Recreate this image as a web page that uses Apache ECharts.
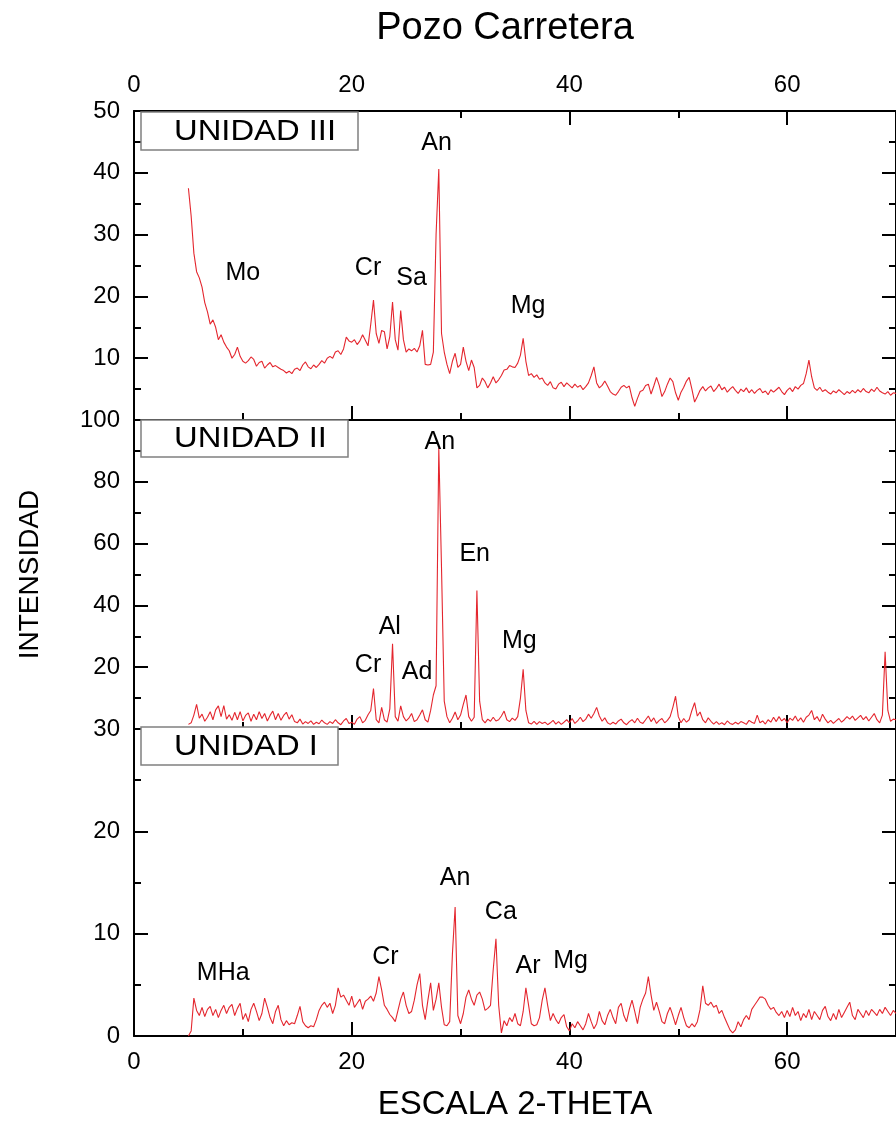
<!DOCTYPE html>
<html>
<head>
<meta charset="utf-8">
<script src="https://cdn.jsdelivr.net/npm/echarts@6/dist/echarts.min.js"></script>
<style>
html,body{margin:0;padding:0;background:#fff;overflow:hidden;}
#chart{width:896px;height:1124px;}
</style>
</head>
<body>
<div id="chart"></div>
<script>
// 2-theta grid (degrees), 5.00 ... 70.00 in steps of 0.25
const twoTheta = [];
for (let i = 0; i <= 260; i++) twoTheta.push(+(5 + i * 0.25).toFixed(2));

// UNIDAD III intensities (top panel)
const unidadIII = [
37.5,33,27,24, 23,21.5,19,17.5, 15.5,16.2,15.0,13, 13.8,12.6,11.8,11.2,
10.0,10.6,11.8,10.3, 9.5,9.2,9.6,10.2, 9.8,8.7,9.3,9.5, 8.4,8.9,9.3,8.6,
8.8,8.5,8.2,8.0, 7.6,7.9,7.5,8.2, 8.4,8.0,8.9,9.4, 8.6,8.3,8.9,8.5,
9.0,9.6,9.2,10.0, 10.3,10.0,11.0,11.2, 10.6,11.5,13.4,12.8, 12.6,13.0,12.2,12.8,
13.8,12.9,12.0,15.5, 19.4,14.0,12.4,14.5, 14.3,11.5,13.5,19.1, 13.0,11.3,17.7,13.0,
11.0,11.5,11.2,11.6, 11.0,12.0,14.5,9.0, 8.9,9.0,11.0,30.0, 40.6,14.0,11.0,9.0,
7.5,9.5,10.8,8.5, 9.0,11.8,9.5,8.0, 9.7,8.5,5.2,5.6, 6.8,6.2,5.2,6.0,
7.0,6.0,6.5,7.2, 8.1,8.2,8.8,8.6, 8.5,9.2,10.5,13.2, 9.5,7.2,7.5,6.9,
7.3,6.6,6.8,6.0, 5.6,6.2,5.2,5.0, 5.8,6.1,5.4,6.0, 5.6,5.2,5.8,5.3,
5.6,4.9,5.4,6.0, 7.2,8.6,6.0,5.2, 5.6,6.3,5.5,4.6, 4.2,4.0,4.6,5.3,
5.6,5.2,5.5,3.6, 2.2,3.5,4.6,4.8, 5.6,5.8,4.2,5.5, 6.9,5.6,3.8,4.6,
5.8,6.8,6.2,4.4, 3.2,4.5,5.3,6.3, 6.9,5.0,2.9,3.8, 4.8,5.4,4.7,5.2,
5.5,4.6,5.1,5.8, 4.9,5.3,4.5,5.0, 5.4,4.8,4.3,5.0, 4.6,5.2,4.4,4.9,
4.3,4.8,5.1,4.4, 4.7,4.1,4.9,4.5, 4.9,5.3,4.6,4.1, 4.8,5.2,4.6,5.4,
5.0,5.6,5.9,7.5, 9.7,7.0,5.2,4.8, 5.3,4.6,4.9,4.5, 4.2,4.7,4.4,4.9,
4.5,4.1,4.6,4.3, 4.8,4.4,4.9,4.5, 5.1,4.6,4.4,5.0, 4.6,5.3,4.7,4.4,
4.2,4.6,4.0,4.4, 4.3
];

// UNIDAD II intensities (middle panel)
const unidadII = [
1.5,2.0,4.5,8.0, 3.5,4.8,2.5,3.8, 5.6,3.0,6.2,7.5, 4.0,7.6,3.2,4.6,
2.8,5.4,3.0,5.6, 2.6,4.4,5.2,2.5, 4.8,3.0,5.6,3.4, 5.0,2.6,4.4,5.8,
3.0,5.0,2.8,4.4, 5.4,3.2,4.6,2.4, 2.0,3.2,1.6,2.4, 1.8,2.6,1.5,2.2,
1.7,2.9,2.0,1.5, 2.4,1.8,3.0,2.0, 1.4,2.6,3.4,1.8, 2.2,1.5,3.2,4.0,
2.0,2.8,4.6,6.0, 13.1,3.0,2.0,7.0, 3.0,2.2,6.5,27.6, 4.0,2.5,7.5,4.0,
2.6,3.5,5.0,2.4, 3.0,4.5,6.2,3.0, 2.2,6.0,11.0,14.0, 91.0,52.0,9.0,4.0,
2.0,3.5,5.5,3.0, 4.5,8.0,11.0,4.0, 2.5,3.8,44.8,9.0, 3.0,2.0,3.2,2.5,
3.8,2.6,3.0,4.2, 5.8,3.0,2.4,3.5, 2.8,4.0,10.0,19.3, 6.0,2.0,1.6,2.5,
1.5,2.4,1.8,2.2, 1.4,2.0,2.8,1.6, 2.4,1.5,2.2,3.0, 2.0,3.4,1.8,2.6,
3.8,2.4,3.2,4.8, 3.5,5.0,7.0,4.2, 2.5,3.6,2.0,1.5, 2.2,1.6,2.6,3.2,
2.0,1.4,2.4,3.0, 2.0,3.5,2.2,1.8, 3.0,4.2,2.4,3.6, 1.8,2.8,3.4,2.0,
2.8,4.0,7.0,10.6, 4.0,2.0,3.4,2.2, 3.0,6.0,8.5,4.2, 5.5,3.0,2.0,3.6,
2.5,1.6,2.4,1.5, 2.0,1.4,2.6,1.8, 1.5,2.2,1.6,2.4, 2.0,1.5,2.8,2.2,
1.8,4.5,2.0,2.6, 1.6,3.0,2.2,3.8, 2.4,4.0,2.6,3.4, 2.0,3.5,2.8,4.2,
2.5,3.6,2.2,3.8, 4.5,6.0,3.0,4.0, 2.4,4.8,3.2,2.0, 2.8,1.8,2.6,3.4,
2.2,3.0,4.0,3.2, 4.2,2.8,3.6,4.4, 3.0,4.0,2.6,3.8, 5.0,3.0,2.0,4.5,
25.0,6.0,2.5,3.2, 3.0
];

// UNIDAD I intensities (bottom panel)
const unidadI = [
0,0.5,3.7,2.5, 2.0,2.8,1.9,2.6, 2.9,2.0,2.6,1.8, 2.5,3.0,2.2,2.8,
3.1,2.0,2.7,3.2, 1.6,2.2,1.4,2.6, 3.2,2.4,1.5,2.2, 3.7,2.8,1.8,1.2,
2.4,3.0,1.6,1.0, 1.5,1.1,1.3,1.2, 2.0,2.9,1.4,1.0, 0.8,1.0,0.9,1.6,
2.5,3.0,3.3,2.8, 3.2,2.2,3.0,4.7, 3.8,4.0,3.5,3.0, 3.9,2.8,3.2,3.6,
2.6,3.4,3.6,3.9, 3.4,4.2,5.8,4.5, 3.0,2.6,2.1,1.8, 1.4,2.5,3.6,4.3,
3.0,2.2,2.4,3.5, 5.0,6.1,3.0,1.6, 3.5,5.2,2.5,3.6, 5.2,2.8,1.1,1.0,
1.4,8.0,12.6,2.0, 1.2,2.2,3.8,4.5, 3.6,3.0,4.0,4.3, 3.6,2.5,2.7,3.0,
6.5,9.5,3.0,0.3, 1.5,1.0,1.8,1.4, 2.2,1.2,1.0,2.4, 4.7,3.0,1.2,1.0,
1.1,1.8,3.5,4.7, 3.0,1.5,2.2,1.6, 1.2,1.8,2.1,0.9, 0.5,1.2,0.8,1.4,
1.0,0.6,1.2,2.2, 1.4,0.7,1.2,2.4, 1.5,1.1,2.0,2.6, 1.8,1.2,2.8,3.2,
2.0,1.4,2.6,3.5, 2.4,1.2,2.8,3.6, 4.2,5.8,4.0,2.5, 3.3,2.4,1.4,1.2,
2.2,2.8,2.0,1.1, 2.0,2.8,1.8,1.0, 0.8,1.2,0.9,1.4, 2.6,4.9,3.2,3.0,
3.3,2.8,3.0,2.2, 2.5,1.8,1.2,0.6, 0.3,0.6,1.4,0.9, 1.6,2.0,1.6,2.6,
3.0,3.4,3.8,3.8, 3.6,3.0,2.6,2.8, 2.3,2.0,2.4,1.8, 2.5,1.9,2.8,2.0,
2.4,1.5,2.2,1.8, 2.6,1.6,2.4,2.0, 1.6,2.5,2.9,1.9, 1.5,2.2,1.6,2.6,
1.8,2.3,2.8,3.3, 2.0,1.6,2.6,2.2, 1.8,2.5,2.0,2.6, 2.3,2.0,2.6,2.2,
2.8,2.4,2.0,2.5, 2.2
];

// Phase annotations: [label, 2-theta, intensity]
const notesIII = [['Mo',10.0,23.7],['Cr',21.5,24.5],['Sa',25.5,22.9],['An',27.8,44.8],['Mg',36.2,18.4]];
const notesII  = [['An',28.1,92.9],['En',31.3,56.5],['Al',23.5,32.9],['Cr',21.5,20.6],['Ad',26.0,18.4],['Mg',35.4,28.4]];
const notesI   = [['MHa',8.2,6.1],['Cr',23.1,7.7],['An',29.5,15.4],['Ca',33.7,12.1],['Ar',36.2,6.8],['Mg',40.1,7.3]];

const panelNames = ['UNIDAD III', 'UNIDAD II', 'UNIDAD I'];
const yMax = [50, 100, 30];
const yStep = [10, 20, 10];
const xStep = 20;

const FONT = 'Liberation Sans, Arial, Helvetica, sans-serif';
const RED = '#e4262e';

function pairs(vals){ return twoTheta.map((x,i)=>[x, vals[i]]); }
function notes(arr){
  return arr.map(n => ({coord:[n[1], n[2]], name:n[0], value:n[0]}));
}

const L = 134, W = 768;
const grids = [
  {left:L, width:W, top:111, height:309},
  {left:L, width:W, top:420, height:309},
  {left:L, width:W, top:729, height:307}
];

const tickStyle = {color:'#000', width:2};
const noLine = {show:false, onZero:false};
const blackLine = {show:true, onZero:false, lineStyle:{color:'#000', width:2}};
function xMajor(gi, pos, labels){
  return {type:'value', gridIndex:gi, position:pos, min:0, max:70, interval:xStep,
    axisLine:blackLine, splitLine:{show:false},
    axisTick:{show:true, inside:true, length:14, lineStyle:tickStyle},
    axisLabel:{show:labels, showMaxLabel:false, color:'#000', fontSize:24, fontFamily:FONT, margin:14}};
}
function xMinor(gi, pos){
  return {type:'value', gridIndex:gi, position:pos, min:0, max:70, interval:xStep/2,
    axisLine:noLine, splitLine:{show:false},
    axisTick:{show:true, inside:true, length:7, lineStyle:tickStyle},
    axisLabel:{show:false}};
}
function yMajor(gi, pos, labels, showMin){
  return {type:'value', gridIndex:gi, position:pos, min:0, max:yMax[gi], interval:yStep[gi],
    axisLine:blackLine, splitLine:{show:false},
    axisTick:{show:true, inside:true, length:14, lineStyle:tickStyle},
    axisLabel:{show:labels, showMinLabel:showMin, color:'#000', fontSize:24, fontFamily:FONT, margin:14}};
}
function yMinor(gi, pos){
  return {type:'value', gridIndex:gi, position:pos, min:0, max:yMax[gi], interval:yStep[gi]/2,
    axisLine:noLine, splitLine:{show:false},
    axisTick:{show:true, inside:true, length:7, lineStyle:tickStyle},
    axisLabel:{show:false}};
}

const xAxes = [
  xMajor(0,'bottom',false), xMinor(0,'bottom'),
  xMajor(0,'top',true), xMinor(0,'top'),
  xMajor(1,'bottom',false), xMinor(1,'bottom'),
  xMajor(2,'bottom',true), xMinor(2,'bottom')
];
xAxes[6].name = 'ESCALA 2-THETA';
xAxes[6].nameLocation = 'middle';
xAxes[6].nameGap = 52;
xAxes[6].nameTextStyle = {color:'#000', fontSize:33, fontFamily:FONT};

const yAxes = [];
[0,1,2].forEach(g => {
  yAxes.push(yMajor(g,'left',true,g===2), yMinor(g,'left'), yMajor(g,'right',false,false), yMinor(g,'right'));
});
// left axis of middle panel carries the shared title
yAxes[4].name = 'INTENSIDAD';
yAxes[4].nameLocation = 'middle';
yAxes[4].nameGap = 90;
yAxes[4].nameTextStyle = {color:'#000', fontSize:28, fontFamily:FONT};

function lineSeries(name, vals, xi, yi, nts){
  return {type:'line', name:name, data:pairs(vals), xAxisIndex:xi, yAxisIndex:yi,
    showSymbol:false, symbol:'none', smooth:false, animation:false,
    lineStyle:{color:RED, width:1.1}, itemStyle:{color:RED},
    markPoint:{symbol:'circle', symbolSize:0, animation:false, silent:true,
      label:{show:true, position:'inside', color:'#000', fontSize:25, fontFamily:FONT,
        formatter: p => p.name},
      data: notes(nts)}};
}

// panel boxes (label frames)
const boxes = [
  {x:141, y:112, w:217, h:38, ty:132},
  {x:141, y:420, w:207, h:37, ty:439},
  {x:141, y:727, w:197, h:38, ty:747}
];
const graphic = [];
boxes.forEach((b,i)=>{
  graphic.push({type:'rect', z:100, shape:{x:b.x, y:b.y, width:b.w, height:b.h},
    style:{fill:'#fff', stroke:'#808080', lineWidth:1.5}});
  graphic.push({type:'text', z:101, x:174, y:b.ty, scaleX:1.13,
    style:{text:panelNames[i], fontSize:29, fontFamily:FONT, fill:'#000',
      align:'left', verticalAlign:'middle', textAlign:'left', textVerticalAlign:'middle'}});
});

const chart = echarts.init(document.getElementById('chart'), null, {renderer:'canvas'});
chart.setOption({
  animation:false,
  backgroundColor:'#fff',
  title:{text:'Pozo Carretera', left:500, top:5, textAlign:'center',
    textStyle:{color:'#000', fontSize:38, fontWeight:'normal', fontFamily:FONT}},
  grid: grids,
  xAxis: xAxes,
  yAxis: yAxes,
  series: [
    lineSeries('UNIDAD III', unidadIII, 0, 0, notesIII),
    lineSeries('UNIDAD II', unidadII, 4, 4, notesII),
    lineSeries('UNIDAD I', unidadI, 6, 8, notesI)
  ],
  graphic: graphic
});
</script>
</body>
</html>
